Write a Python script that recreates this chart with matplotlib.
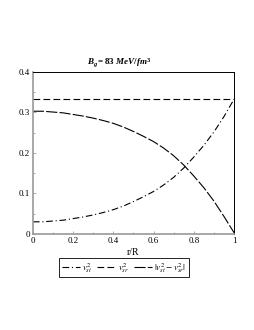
import matplotlib
matplotlib.use("Agg")
import matplotlib.pyplot as plt
from matplotlib.ticker import MultipleLocator, FuncFormatter
from matplotlib.font_manager import FontProperties

plt.rcParams['font.family'] = ['Liberation Serif', 'DejaVu Serif']
# bold-italic math for the title only
plt.rcParams['mathtext.fontset'] = 'custom'
plt.rcParams['mathtext.rm'] = 'Liberation Serif:bold'
plt.rcParams['mathtext.it'] = 'Liberation Serif:italic:bold'
plt.rcParams['mathtext.bf'] = 'Liberation Serif:bold'

# radius r/R
r = [0.00, 0.05, 0.10, 0.15, 0.20, 0.25, 0.30, 0.35, 0.40, 0.45, 0.50,
     0.55, 0.60, 0.65, 0.70, 0.75, 0.80, 0.85, 0.90, 0.95, 1.00]
# tangential sound speed squared
v_st = [0.030, 0.030, 0.032, 0.034, 0.038, 0.042, 0.047, 0.053, 0.060, 0.069, 0.080,
        0.092, 0.105, 0.121, 0.140, 0.163, 0.190, 0.219, 0.252, 0.290, 0.333]
# radial sound speed squared
v_sr = [0.333] * 21
# |v_st^2 - v_sr^2|
v_diff = [0.303, 0.303, 0.301, 0.299, 0.295, 0.291, 0.286, 0.280, 0.273, 0.264, 0.253,
          0.241, 0.228, 0.212, 0.193, 0.170, 0.143, 0.114, 0.081, 0.043, 0.003]
labels = [r'$v_{st}^2$', r'$v_{sr}^2$', r'$|v_{st}^2 - v_{sr}^2|$']

fig = plt.figure(figsize=(2.55, 3.3), dpi=100)
ax = fig.add_axes([0.129, 0.291, 0.789, 0.491])

ax.plot(r, v_st, color='black', lw=0.8, linestyle=(0, (6, 2.5, 1, 2.5)))
ax.plot(r, v_sr, color='black', lw=0.8, linestyle=(0, (6, 3)))
ax.plot(r, v_diff, color='black', lw=0.8, linestyle=(0, (10, 2)))

ax.set_xlim(0, 1)
ax.set_ylim(0, 0.4)
ax.xaxis.set_major_locator(MultipleLocator(0.2))
ax.xaxis.set_minor_locator(MultipleLocator(0.1))
ax.yaxis.set_major_locator(MultipleLocator(0.1))
ax.yaxis.set_minor_locator(MultipleLocator(0.05))
ax.xaxis.set_major_formatter(FuncFormatter(lambda v, p: f'{v:g}'))
ax.yaxis.set_major_formatter(FuncFormatter(lambda v, p: f'{v:g}'))
ax.tick_params(which='both', direction='in', labelsize=6.5, width=0.5, colors='#888888',
               labelcolor='black', pad=2)
ax.tick_params(which='major', length=2.5)
ax.tick_params(which='minor', length=1.5)

for s in ['left', 'bottom']:
    ax.spines[s].set_color('#999999')
    ax.spines[s].set_linewidth(1.2)
for s in ['top', 'right']:
    ax.spines[s].set_color('black')
    ax.spines[s].set_linewidth(0.7)

ax.set_xlabel('r/R', fontsize=7, labelpad=2)
fig.text(0.467, 0.81, r'$B_g = 83\ MeV/fm^3$', ha='center', va='center', fontsize=6.5)

legend_font = FontProperties(family='Liberation Serif', size=6.5, math_fontfamily='stix')
leg = fig.legend(ax.get_lines(), labels,
                 loc='center', bbox_to_anchor=(0.486, 0.189), ncol=3, prop=legend_font,
                 handlelength=2.0, handletextpad=0.3, columnspacing=0.5,
                 borderpad=0.3, fancybox=False, edgecolor='black', framealpha=1)
leg.get_frame().set_linewidth(0.6)

fig.savefig('out.png', dpi=100)
